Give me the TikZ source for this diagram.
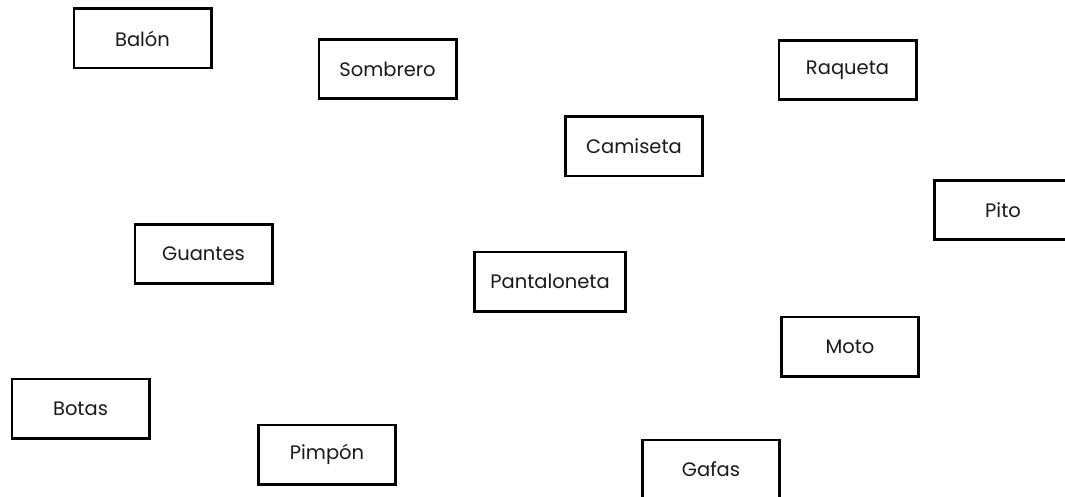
\documentclass[tikz,border=0pt]{standalone}
\usepackage{fontspec}
\setmainfont{Poppins}
\begin{document}
\begin{tikzpicture}[x=1pt,y=-1pt,
  box/.style={draw=black, line width=2.6pt, fill=white, minimum width=137.4pt, minimum height=59.4pt, inner sep=0pt, text=black!90, font=\fontsize{19.5}{22}\selectfont}]
\useasboundingbox (0,0) rectangle (1065,497);
\node[box] (balon) at (142.5,38.5) {Balón};
\node[box] (sombrero) at (387.5,69) {Sombrero};
\node[box] (raqueta) at (847.5,70) {Raqueta};
\node[box] (camiseta) at (634,146.5) {Camiseta};
\node[box] (pito) at (1003,210) {Pito};
\node[box] (guantes) at (203.5,254) {Guantes};
\node[box, minimum width=151.4pt] (pantaloneta) at (550,281.5) {Pantaloneta};
\node[box] (moto) at (850,346.5) {Moto};
\node[box] (botas) at (80.5,408.5) {Botas};
\node[box] (pimpon) at (327,454.5) {Pimpón};
\node[box] (gafas) at (711,469.5) {Gafas};
\end{tikzpicture}
\end{document}
